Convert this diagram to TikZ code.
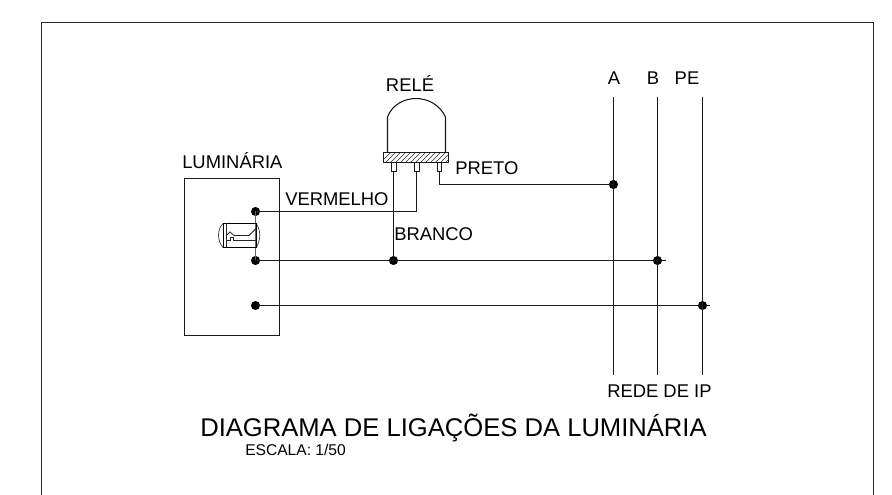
\documentclass[tikz,border=0pt]{standalone}
\usepackage{fontspec}
\setmainfont{Liberation Sans}
\tikzset{
  wire/.style={line width=0.85pt,black!90},
  dotmark/.style={circle,fill=black,inner sep=0pt,minimum size=6.8pt},
  lbl/.style={inner sep=0pt,font=\fontsize{13.8}{15}\selectfont,text=black},
  part/.style={line width=0.8pt,black!90}
}
\begin{document}
\begin{tikzpicture}[x=0.75pt,y=-0.75pt]
\useasboundingbox (0,0) rectangle (892,495);
\fill[white] (0,0) rectangle (892,495);
% frame
\draw[line width=1pt,black!85] (41.5,495) -- (41.5,22.5) -- (873.5,22.5) -- (873.5,495);
% luminaire
\draw[part] (184.5,178.5) rectangle (279.5,335.5);
% relay
\draw[part] (387.5,152) -- (387.5,117) .. controls (392,105) and (404,98.5) .. (416,98.5) .. controls (428,98.5) and (440,105) .. (445.5,117) -- (445.5,152);
\begin{scope}
\clip (383.5,152.5) rectangle (448.5,162.5);
\foreach \hx in {380,385,...,455}
  \draw[line width=0.5pt,black!85] (\hx,163) -- (\hx+11,152);
\end{scope}
\draw[part] (383.5,152.5) rectangle (448.5,162.5);
\draw[part] (391.5,162.5) rectangle (396.5,171.5);
\draw[part] (414.5,162.5) rectangle (419.5,171.5);
\draw[part] (437.5,162.5) rectangle (441.5,171.5);
% dots
\node[dotmark] (d1) at (255.5,211.5) {};
\node[dotmark] (d2) at (255.5,260.5) {};
\node[dotmark] (d3) at (255.5,305.5) {};
\node[dotmark] (d4) at (393.5,260.5) {};
\node[dotmark] (d5) at (613.5,184.5) {};
\node[dotmark] (d6) at (657.5,260.5) {};
\node[dotmark] (d7) at (702.5,305.5) {};
\coordinate (p1) at (393.5,171.5);
\coordinate (p2) at (416.5,171.5);
\coordinate (p3) at (439.5,171.5);
\coordinate (at) at (613.5,97);
\coordinate (ab) at (613.5,375);
\coordinate (bt) at (657.5,97);
\coordinate (bb) at (657.5,375);
\coordinate (pt) at (702.5,97);
\coordinate (pb) at (702.5,375);
% wires
\draw[wire] (at) -- (ab);
\draw[wire] (bt) -- (bb);
\draw[wire] (pt) -- (pb);
\draw[wire] (d1.center) -- (416.5,211.5) -- (p2);
\draw[wire] (p1) -- (d4.center);
\draw[wire] (p3) -- (439.5,184.5) -- (d5.center);
\draw[wire] (d2.center) -- (d4.center) -- (d6.center) -- (666,260.5);
\draw[wire] (d3.center) -- (d7.center) -- (710,305.5);
\draw[wire,black!60] (d1.center) -- (d2.center);
% lamp symbol
\draw[line width=0.5pt,black!80] (223,223.5) .. controls (217,229) and (217,241) .. (223,247.5);
\draw[line width=0.5pt,black!80] (256,223.5) .. controls (261,229) and (261,241) .. (256,247.5);
\draw[line width=0.8pt,black] (223.5,223.5) rectangle (256.5,247.5);
\draw[line width=0.6pt,black!85] (226.5,223.5) -- (226.5,247.5);
\draw[line width=0.6pt,black!85] (226.5,235.5) -- (230,232) -- (234,235.5) -- (249,235.5) -- (256,228.5);
\draw[line width=0.6pt,black!85] (226.5,240.5) -- (230.5,240.5) -- (230.5,237.5) -- (233.5,237.5) -- (233.5,240.5) -- (256,240.5);
% labels
\node[lbl,anchor=south] (t1) at (410,91.5) {RELÉ};
\node[lbl,anchor=south west] (t2) at (182,169) {LUMINÁRIA};
\node[lbl,anchor=south west] (t3) at (285,205.5) {VERMELHO};
\node[lbl,anchor=south west] (t4) at (394,240.5) {BRANCO};
\node[lbl,anchor=south west] (t5) at (455,174.5) {PRETO};
\node[lbl,anchor=south] (t6) at (614,85) {A};
\node[lbl,anchor=south] (t7) at (653,85) {B};
\node[lbl,anchor=south] (t8) at (687,85) {PE};
\node[lbl,anchor=south west] (t9) at (607,397.5) {REDE DE IP};
\node[inner sep=0pt,anchor=south west,font=\fontsize{19.2}{22}\selectfont,text=black] (t10) at (200,442.5) {DIAGRAMA DE LIGAÇÕES DA LUMINÁRIA};
\node[inner sep=0pt,anchor=south west,font=\fontsize{11.7}{13}\selectfont,text=black] (t11) at (245,456) {ESCALA: 1/50};
\end{tikzpicture}
\end{document}
